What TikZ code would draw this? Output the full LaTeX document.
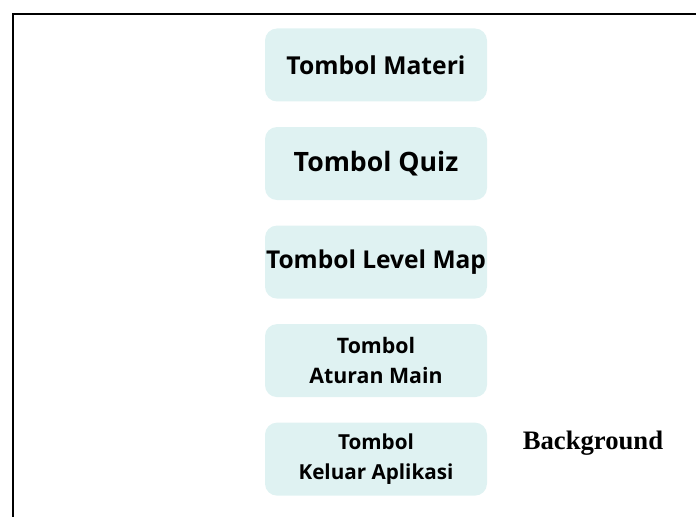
\documentclass[tikz,border=0pt]{standalone}
\usepackage{fontspec}
\usepackage{tikz}
\usetikzlibrary{positioning}
\usepackage{xcolor}
\newfontfamily\btnfont{Open Sans}
\newfontfamily\bgfont{Liberation Serif}
\definecolor{tombolfill}{HTML}{DFF2F2}

\begin{document}
\begin{tikzpicture}[x=0.75pt, y=-0.75pt, node distance=18.75pt,
    tombol/.style={fill=tombolfill, rounded corners=9pt, inner sep=0pt, minimum width=166.5pt,
        minimum height=54.75pt, align=center, font=\btnfont\bfseries}]
    \useasboundingbox (0,0) rectangle (696,517);
    \draw[line width=1.6pt] (13,517) -- (13,14) -- (696,14);

    \node[tombol, font=\btnfont\bfseries\fontsize{18.5}{22}\selectfont] (materi) at (376,65) {Tombol Materi};
    \node[tombol, font=\btnfont\bfseries\fontsize{20}{24}\selectfont] (quiz) [below=of materi] {Tombol Quiz};
    \node[tombol, font=\btnfont\bfseries\fontsize{18.4}{23}\selectfont] (levelmap) [below=of quiz] {Tombol Level Map};
    \node[tombol, font=\btnfont\bfseries\fontsize{16}{22}\selectfont] (aturan) [below=of levelmap] {Tombol\\Aturan Main};
    \node[tombol, font=\btnfont\bfseries\fontsize{15.5}{22}\selectfont] (keluar) [below=of aturan] {Tombol\\Keluar Aplikasi};

    \node[font=\bgfont\bfseries\fontsize{20}{24}\selectfont] (bg) at (593,443) {Background};
\end{tikzpicture}
\end{document}
